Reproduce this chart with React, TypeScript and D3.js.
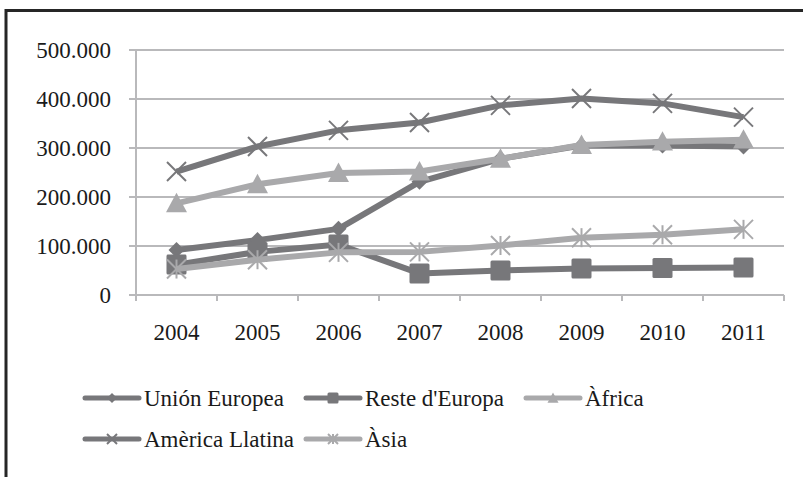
import React from "react";
import * as d3 from "d3";

const years = ["2004", "2005", "2006", "2007", "2008", "2009", "2010", "2011"];
const unioEuropea = [92000, 112000, 135000, 231000, 278000, 305000, 305000, 303000];
const resteEuropa = [62000, 88000, 103000, 44000, 50000, 54000, 55000, 56000];
const africa = [187000, 226000, 249000, 252000, 278000, 306000, 313000, 317000];
const americaLlatina = [252000, 303000, 336000, 352000, 387000, 401000, 391000, 363000];
const asia = [53000, 72000, 87000, 88000, 101000, 117000, 123000, 134000];
const yTicks = [0, 100000, 200000, 300000, 400000, 500000];
const seriesNames = ["Unión Europea", "Reste d'Europa", "Àfrica", "Amèrica Llatina", "Àsia"];

const DARK = "#77777a";
const LIGHT = "#a9a9ab";

type Marker = "diamond" | "square" | "triangle" | "x" | "star";

const series: { name: string; values: number[]; color: string; marker: Marker }[] = [
  { name: seriesNames[0], values: unioEuropea, color: DARK, marker: "diamond" },
  { name: seriesNames[1], values: resteEuropa, color: DARK, marker: "square" },
  { name: seriesNames[2], values: africa, color: LIGHT, marker: "triangle" },
  { name: seriesNames[3], values: americaLlatina, color: DARK, marker: "x" },
  { name: seriesNames[4], values: asia, color: LIGHT, marker: "star" },
];

function fmt(v: number) {
  if (v === 0) return "0";
  return d3.format(",")(v).replace(/,/g, ".");
}

function MarkerShape({ type, x, y, s, color }: { type: Marker; x: number; y: number; s: number; color: string }) {
  const h = s / 2;
  switch (type) {
    case "diamond":
      return <path d={`M${x},${y - h}L${x + h},${y}L${x},${y + h}L${x - h},${y}Z`} fill={color} />;
    case "square":
      return <rect x={x - h} y={y - h} width={s} height={s} fill={color} rx={1.5} />;
    case "triangle":
      return <path d={`M${x},${y - h}L${x + h},${y + h * 0.85}L${x - h},${y + h * 0.85}Z`} fill={color} />;
    case "x":
      return (
        <g stroke={color} strokeWidth={2}>
          <line x1={x - h} y1={y - h} x2={x + h} y2={y + h} />
          <line x1={x - h} y1={y + h} x2={x + h} y2={y - h} />
        </g>
      );
    case "star":
      return (
        <g stroke={color} strokeWidth={2}>
          <line x1={x - h} y1={y - h} x2={x + h} y2={y + h} />
          <line x1={x - h} y1={y + h} x2={x + h} y2={y - h} />
          <line x1={x} y1={y - h} x2={x} y2={y + h} />
        </g>
      );
  }
}

const textStyle = { fontFamily: "Liberation Serif", fontSize: "23px" };

export default function App() {
  const W = 803;
  const H = 477;
  const left = 136;
  const right = 784;
  const top = 50;
  const bottom = 295;
  const x = d3.scaleBand<string>().domain(years).range([left, right]);
  const y = d3.scaleLinear().domain([0, 500000]).range([bottom, top]);
  const line = d3
    .line<number>()
    .x((_, i) => (x(years[i]) as number) + x.bandwidth() / 2)
    .y((d) => y(d));
  const markerSize: Record<Marker, number> = { diamond: 16, square: 20, triangle: 21, x: 19, star: 19 };
  const legendItems = [
    { s: series[0], lx: 85, ly: 398 },
    { s: series[1], lx: 306, ly: 398 },
    { s: series[2], lx: 526, ly: 398 },
    { s: series[3], lx: 85, ly: 439 },
    { s: series[4], lx: 306, ly: 439 },
  ];
  const legendMarker: Record<Marker, number> = { diamond: 10, square: 11, triangle: 11, x: 10, star: 10 };

  return (
    <svg width={W} height={H} style={{ position: "absolute", left: 0, top: 0 }}>
      <rect x={0} y={0} width={W} height={H} fill="#fff" />
      <line x1={6} y1={10.5} x2={W} y2={10.5} stroke="#262626" strokeWidth={3} />
      <line x1={6} y1={9} x2={6} y2={H} stroke="#262626" strokeWidth={3} />
      {yTicks.map((t) => (
        <g key={t}>
          <line x1={129} x2={right} y1={y(t)} y2={y(t)} stroke="#b9b9bb" strokeWidth={2} />
          <text x={111} y={y(t) + 7.5} textAnchor="end" fill="#1a1a1a" style={textStyle}>
            {fmt(t)}
          </text>
        </g>
      ))}
      <line x1={left} x2={left} y1={top} y2={bottom + 6} stroke="#b9b9bb" strokeWidth={2} />
      {years.map((yr, i) => (
        <line
          key={"t" + yr}
          x1={left + (i + 1) * x.step()}
          x2={left + (i + 1) * x.step()}
          y1={bottom}
          y2={bottom + 6}
          stroke="#b9b9bb"
          strokeWidth={2}
        />
      ))}
      {years.map((yr) => (
        <text
          key={yr}
          x={(x(yr) as number) + x.bandwidth() / 2}
          y={340}
          textAnchor="middle"
          fill="#1a1a1a"
          style={textStyle}
        >
          {yr}
        </text>
      ))}
      {series.map((s) => (
        <g key={s.name}>
          <path d={line(s.values) || ""} fill="none" stroke={s.color} strokeWidth={6} strokeLinejoin="round" />
          {s.values.map((v, i) => (
            <MarkerShape
              key={i}
              type={s.marker}
              x={(x(years[i]) as number) + x.bandwidth() / 2}
              y={y(v)}
              s={markerSize[s.marker]}
              color={s.color}
            />
          ))}
        </g>
      ))}
      {legendItems.map(({ s, lx, ly }) => (
        <g key={"l" + s.name}>
          <line x1={lx} x2={lx + 54} y1={ly} y2={ly} stroke={s.color} strokeWidth={5} strokeLinecap="round" />
          <MarkerShape type={s.marker} x={lx + 27} y={ly} s={legendMarker[s.marker]} color={s.color} />
          <text x={lx + 59} y={ly + 7.5} fill="#1a1a1a" style={textStyle}>
            {s.name}
          </text>
        </g>
      ))}
    </svg>
  );
}
